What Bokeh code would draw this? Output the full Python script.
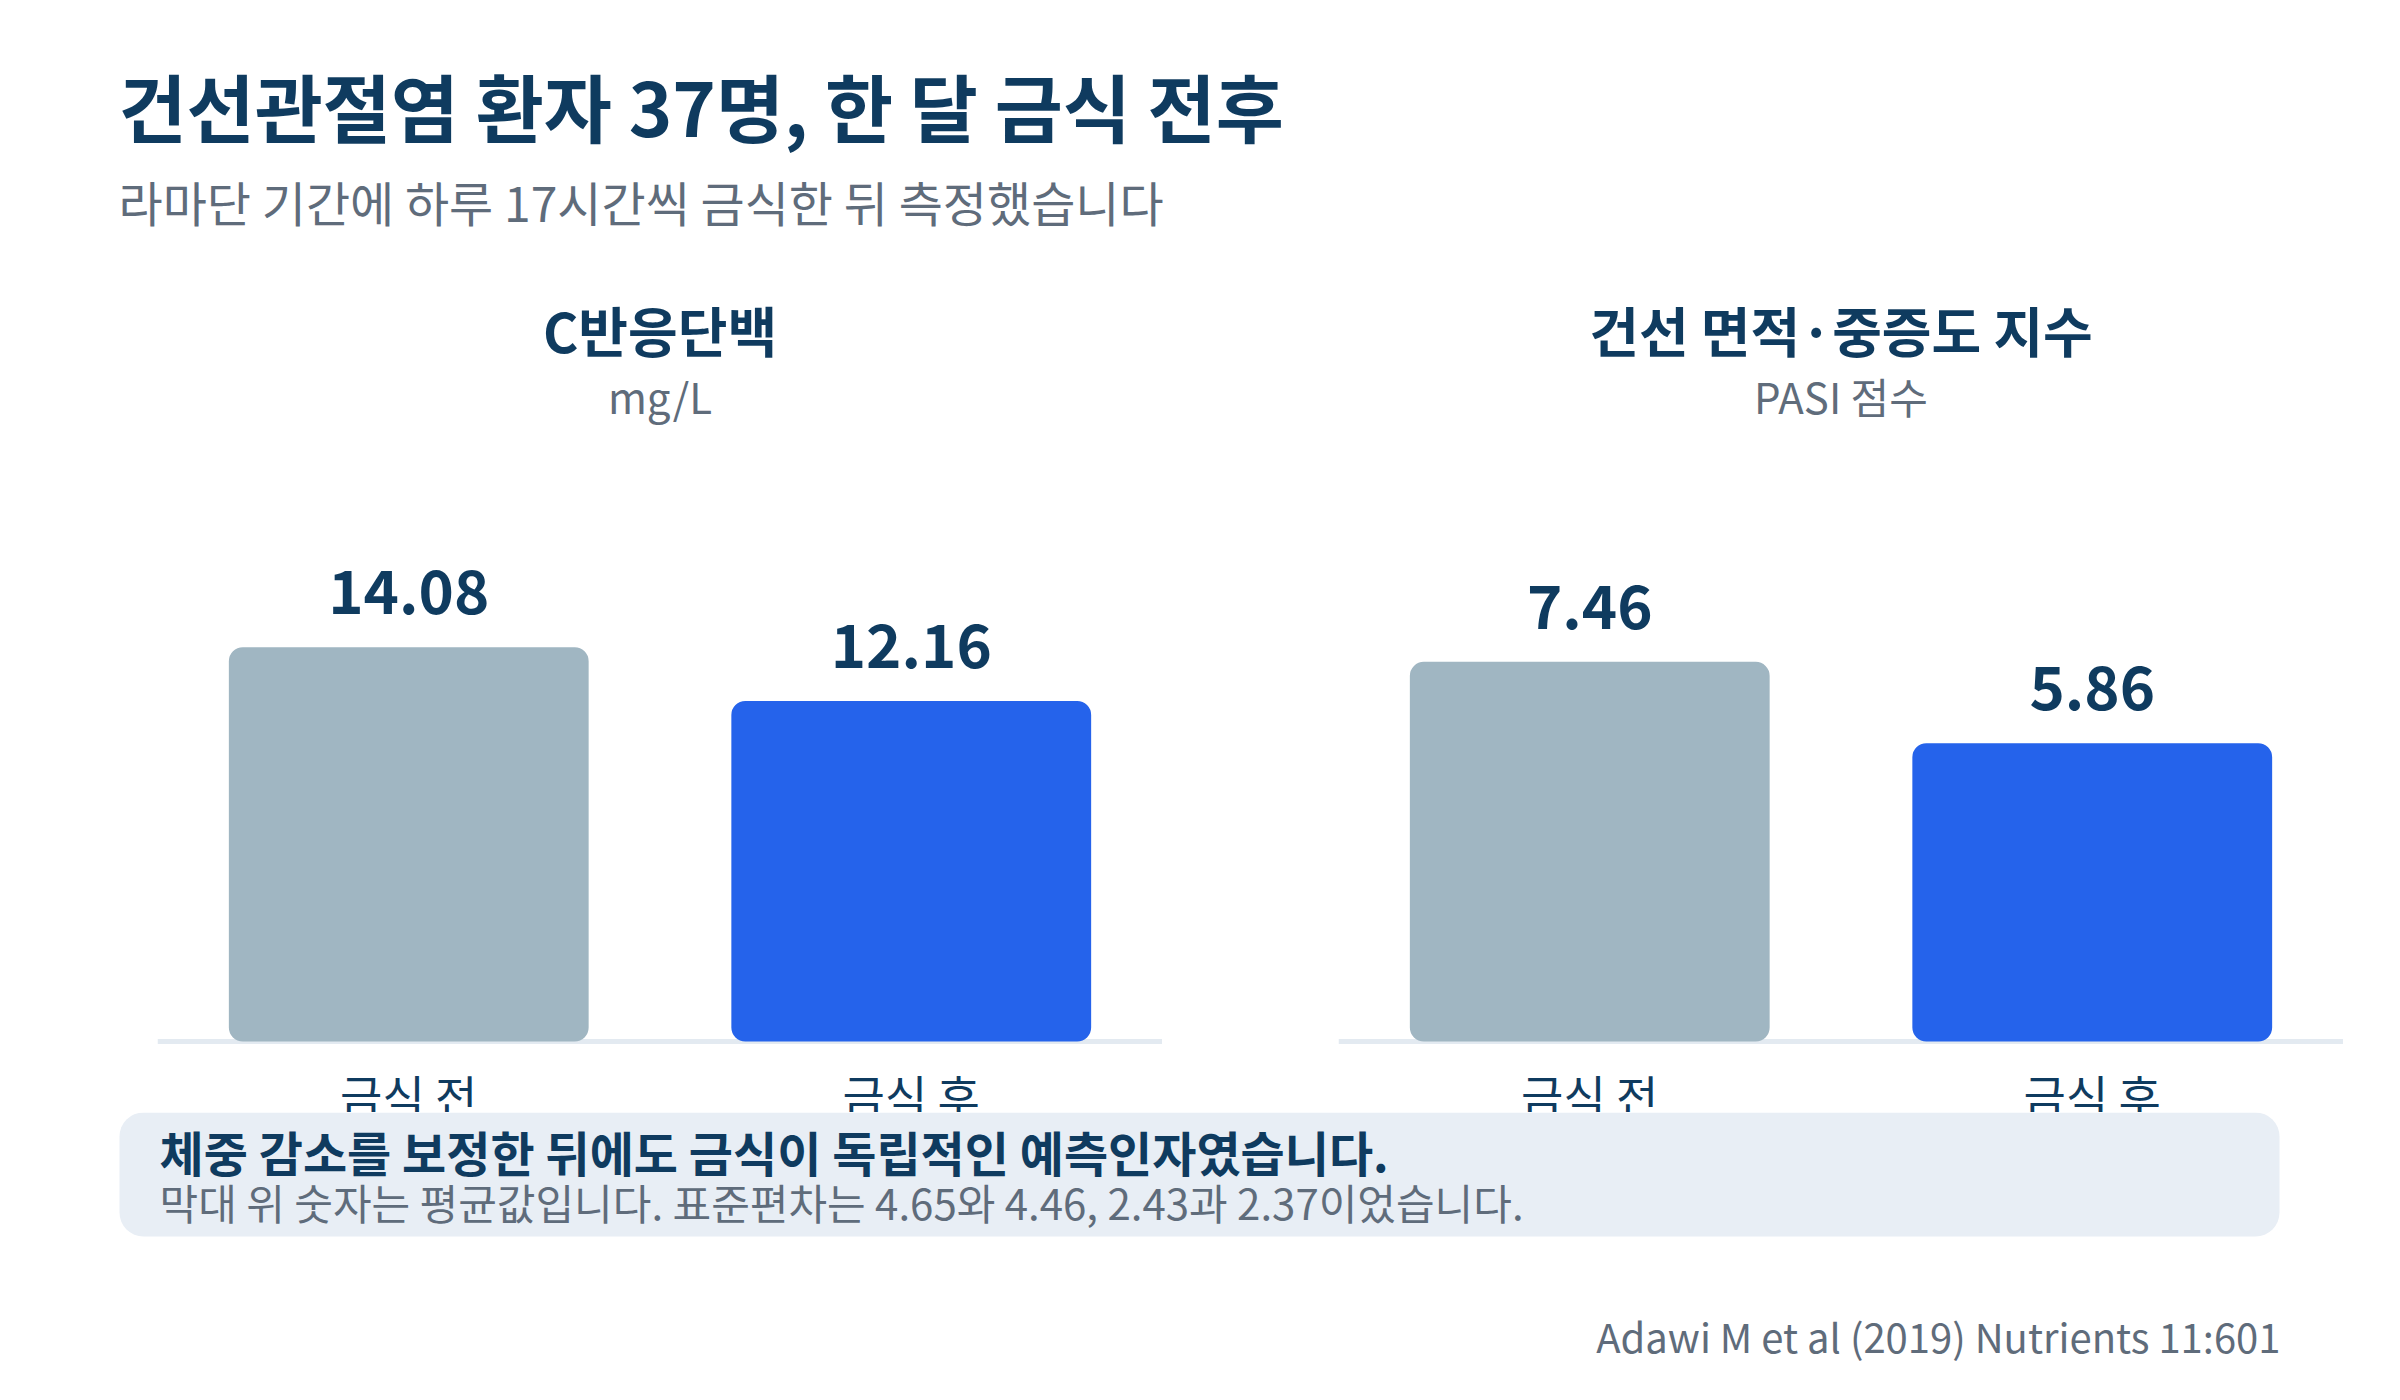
from bokeh.plotting import figure
from bokeh.models import ColumnDataSource, Range1d, FactorRange, Span, Label, Spacer
from bokeh.layouts import column, row
from bokeh.core.properties import value
from bokeh.embed import file_html
from bokeh.resources import INLINE

# data
title = "건선관절염 환자 37명, 한 달 금식 전후"
subtitle = "라마단 기간에 하루 17시간씩 금식한 뒤 측정했습니다"
categories = ["금식 전", "금식 후"]
crp_values = [14.08, 12.16]
pasi_values = [7.46, 5.86]
panel_titles = ["C반응단백", "건선 면적·중증도 지수"]
panel_units = ["mg/L", "PASI 점수"]
note_head = "체중 감소를 보정한 뒤에도 금식이 독립적인 예측인자였습니다."
note_body = "막대 위 숫자는 평균값입니다. 표준편차는 4.65와 4.46, 2.43과 2.37이었습니다."
source_text = "Adawi M et al (2019) Nutrients 11:601"

FONT = "Noto Sans CJK KR"
NAVY = "#0f3b5f"
GRAY = "#5f6c7b"
BAR_COLORS = ["#a0b6c2", "#2563eb"]

W = 2384
HEAD_H = 280
PANEL_W = 1005
PANEL_H = 832
FOOT_H = 1384 - HEAD_H - PANEL_H
BASE_PX = 71  # baseline height above bottom of panel


def blank(width, height, **kw):
    p = figure(width=width, height=height, output_backend="svg",
               toolbar_location=None, x_axis_location=None,
               y_axis_location=None, min_border=0, **kw)
    p.outline_line_color = None
    p.grid.visible = False
    p.background_fill_color = "white"
    p.border_fill_color = "white"
    return p


# header
head = blank(W, HEAD_H, x_range=Range1d(0, W), y_range=Range1d(HEAD_H, 0))
head.text(x=[118], y=[104], text=[title], text_font=value(FONT),
          text_font_size="74px", text_font_style="bold", text_color=NAVY,
          text_baseline="middle")
head.text(x=[118], y=[200], text=[subtitle], text_font=value(FONT),
          text_font_size="48px", text_color=GRAY, text_baseline="middle")


def panel(name, unit, values, px_per_unit):
    src = ColumnDataSource(data=dict(
        cat=categories,
        val=values,
        label=["%.2f" % v for v in values],
        color=BAR_COLORS,
    ))
    y0 = -BASE_PX / px_per_unit
    y1 = (PANEL_H - BASE_PX) / px_per_unit
    p = blank(PANEL_W, PANEL_H,
              x_range=FactorRange(*categories, range_padding=0),
              y_range=Range1d(y0, y1))

    p.add_layout(Span(location=0, dimension="width", line_color="#e3eaf1",
                      line_width=5, level="underlay"))
    p.vbar(x="cat", top="val", bottom=0, width=0.716, source=src,
           fill_color="color", line_color=None, border_radius=14)
    p.text(x="cat", y="val", text="label", source=src, y_offset=-55,
           text_align="center", text_baseline="alphabetic",
           text_font=value(FONT), text_font_size="60px",
           text_font_style="bold", text_color=NAVY)
    p.text(x="cat", y=0, text="cat", source=src, y_offset=19,
           text_align="center", text_baseline="top",
           text_font=value(FONT), text_font_size="46px", text_color=NAVY)

    p.add_layout(Label(x=PANEL_W / 2, y=PANEL_H - 49, x_units="screen",
                       y_units="screen", text=name, text_align="center",
                       text_baseline="middle", text_font=FONT,
                       text_font_size="54px", text_font_style="bold",
                       text_color=NAVY))
    p.add_layout(Label(x=PANEL_W / 2, y=PANEL_H - 115, x_units="screen",
                       y_units="screen", text=unit, text_align="center",
                       text_baseline="middle", text_font=FONT,
                       text_font_size="42px", text_color=GRAY))
    return p


p1 = panel(panel_titles[0], panel_units[0], crp_values, 28.0)
p2 = panel(panel_titles[1], panel_units[1], pasi_values, 50.9)

# footer
foot = blank(W, FOOT_H, x_range=Range1d(0, W), y_range=Range1d(FOOT_H, 0))
foot.quad(left=[119], right=[2279], top=[0], bottom=[124],
          fill_color="#e8eef5", line_color=None, border_radius=24)
foot.text(x=[159], y=[38], text=[note_head], text_font=value(FONT),
          text_font_size="48px", text_font_style="bold", text_color=NAVY,
          text_baseline="middle")
foot.text(x=[159], y=[89], text=[note_body], text_font=value(FONT),
          text_font_size="42px", text_color=GRAY, text_baseline="middle")
foot.text(x=[2280], y=[223], text=[source_text], text_font=value(FONT),
          text_font_size="40px", text_color=GRAY, text_baseline="middle",
          text_align="right")

page = column(
    head,
    row(Spacer(width=157, height=PANEL_H), p1, Spacer(width=176, height=PANEL_H),
        p2, Spacer(width=41, height=PANEL_H)),
    foot,
)

open("out.html", "w").write(file_html(page, INLINE))
